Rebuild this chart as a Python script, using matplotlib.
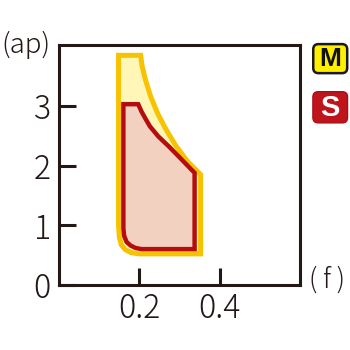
import matplotlib
matplotlib.use("Agg")
import matplotlib.pyplot as plt
from matplotlib.patches import Polygon, FancyBboxPatch

# outer "M" region (feed f, depth ap)
m_f = [0.148, 0.203, 0.207, 0.215, 0.228, 0.245, 0.266, 0.291, 0.32, 0.3525,
       0.3525, 0.20, 0.18, 0.165, 0.155, 0.150, 0.148]
m_ap = [3.85, 3.85, 3.66, 3.44, 3.16, 2.88, 2.61, 2.33, 2.07, 1.85,
        0.52, 0.52, 0.54, 0.59, 0.67, 0.80, 1.0]

# inner "S" region
s_f = [0.16, 0.197, 0.205, 0.214, 0.226, 0.247, 0.272, 0.297, 0.33, 0.3375,
       0.3375, 0.205, 0.19, 0.178, 0.168, 0.162, 0.16]
s_ap = [3.03, 3.03, 2.91, 2.80, 2.66, 2.49, 2.33, 2.16, 1.93, 1.88,
        0.60, 0.60, 0.62, 0.66, 0.72, 0.82, 0.95]

x_ticks = [0.2, 0.4]
x_labels = ["0.2", "0.4"]
y_ticks = [0, 1, 2, 3]
y_labels = ["0", "1", "2", "3"]

dark = "#231815"
jp = ["Noto Sans CJK JP", "DejaVu Sans"]

fig = plt.figure(figsize=(3.5, 3.5), dpi=100)
ax = fig.add_axes([0.169, 0.186, 0.688, 0.685])

ax.add_patch(Polygon(list(zip(m_f, m_ap)), closed=True, facecolor="#FFF6B8",
                     edgecolor="#F7C200", linewidth=3.6, joinstyle="miter"))
ax.add_patch(Polygon(list(zip(s_f, s_ap)), closed=True, facecolor="#F2D1C1",
                     edgecolor="#B50D0D", linewidth=3.2, joinstyle="miter"))

ax.set_xlim(0, 0.6)
ax.set_ylim(0, 4.02)
ax.set_xticks(x_ticks, x_labels)
ax.set_yticks(y_ticks, y_labels)
ax.tick_params(direction="in", length=12, width=2.2, color=dark, labelcolor=dark,
               labelsize=23)
ax.tick_params(axis="x", pad=5)
ax.tick_params(axis="y", pad=6)
for lab in ax.get_xticklabels() + ax.get_yticklabels():
    lab.set_family(jp)
    lab.set_fontweight("light")
for s in ax.spines.values():
    s.set_linewidth(2.2)
    s.set_color(dark)

fig.text(1 / 350, 1 - 45 / 350, "(ap)", ha="left", va="center", fontsize=20,
         family=jp, fontweight="light", color=dark)
fig.text(327 / 350, 1 - 280 / 350, "( f )", ha="center", va="center", fontsize=19,
         family=jp, fontweight="light", color=dark)

# badges at the right
fig.add_artist(FancyBboxPatch((0.895, 0.791), 0.097, 0.083, boxstyle="round,pad=0,rounding_size=0.015",
                              transform=fig.transFigure, facecolor="#FFEF00",
                              edgecolor="#1a1a1a", linewidth=1.8))
fig.text(0.9435, 0.832, "M", ha="center", va="center", fontsize=19, fontweight="bold",
         family="Liberation Sans", color="#111111")
fig.add_artist(FancyBboxPatch((0.894, 0.649), 0.099, 0.089, boxstyle="round,pad=0,rounding_size=0.015",
                              transform=fig.transFigure, facecolor="#C0141C",
                              edgecolor="#A80F15", linewidth=1))
fig.text(0.9435, 0.692, "S", ha="center", va="center", fontsize=21, fontweight="bold",
         family="Liberation Sans", color="white")

fig.savefig("out.png", dpi=100)
